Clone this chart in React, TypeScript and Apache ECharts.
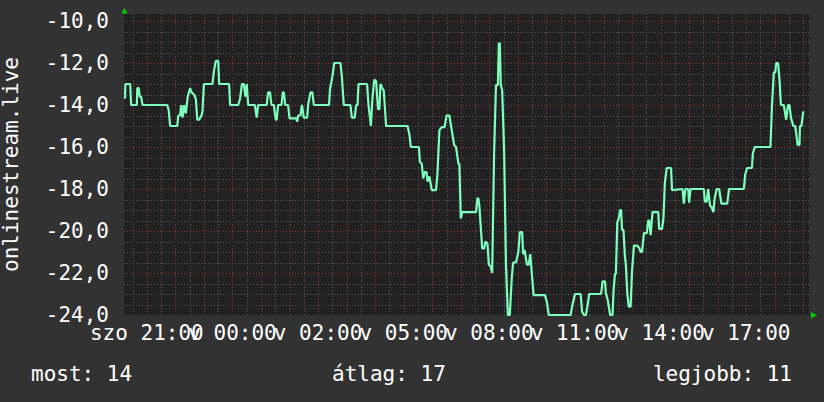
import React, { useEffect, useRef } from "react";
import * as echarts from "echarts";

const FONT = "'DejaVu Sans Mono', monospace";
const TEXT_COLOR = "#ffffff";

// x axis: minutes elapsed since "szo 21:00"; y axis: measured value
const X_MIN = -48;
const X_MAX = 1392;
const Y_MIN = -24;
const Y_MAX = -10 + 1 / 3;

const X_LABEL_MINUTES = [0, 180, 360, 540, 720, 900, 1080, 1260];
const X_LABELS = ["szo 21:00", "v 00:00", "v 02:00", "v 05:00", "v 08:00", "v 11:00", "v 14:00", "v 17:00"];
const Y_TICKS = [-24, -22, -20, -18, -16, -14, -12, -10];
const Y_TITLE = "onlinestream.live";

const LEGEND_LABELS = ["most", "átlag", "legjobb"];
const LEGEND_VALUES = [14, 17, 11];

const SAMPLE_MINUTES = [
  -46, -45, -35, -33, -21, -20, -17, -15, -12, -9,
  43, 46, 49, 64, 66, 70, 72, 75, 78, 82,
  86, 91, 94, 99, 103, 106, 110, 115, 117, 120,
  138, 141, 145, 150, 152, 173, 175, 192, 196, 200,
  204, 207, 210, 213, 227, 231, 234, 252, 255, 259,
  262, 267, 271, 273, 276, 283, 286, 288, 291, 297,
  300, 314, 316, 318, 323, 326, 330, 337, 339, 344,
  348, 351, 383, 385, 390, 394, 407, 410, 414, 428,
  431, 437, 440, 443, 445, 463, 466, 471, 474, 478,
  482, 486, 489, 491, 495, 498, 503, 544, 548, 552,
  555, 572, 574, 578, 581, 584, 588, 590, 594, 599,
  608, 611, 615, 620, 626, 630, 636, 641, 646, 650,
  655, 657, 660, 663, 692, 695, 697, 699, 705, 709,
  712, 716, 719, 723, 726, 730, 734, 738, 740, 742,
  744, 747, 751, 755, 759, 763, 767, 770, 776, 781,
  784, 789, 791, 794, 799, 803, 806, 810, 813, 837,
  841, 845, 891, 894, 900, 912, 915, 919, 923, 926,
  930, 955, 958, 963, 965, 969, 974, 979, 981, 984,
  986, 989, 992, 995, 997, 999, 1002, 1005, 1007, 1010,
  1013, 1017, 1020, 1024, 1031, 1035, 1038, 1041, 1045, 1051,
  1054, 1056, 1059, 1063, 1075, 1077, 1083, 1086, 1089, 1093,
  1102, 1104, 1126, 1129, 1132, 1138, 1140, 1143, 1171, 1173,
  1177, 1180, 1184, 1187, 1191, 1194, 1198, 1203, 1208, 1220,
  1224, 1255, 1258, 1262, 1272, 1274, 1278, 1311, 1314, 1318,
  1321, 1323, 1327, 1330, 1333, 1339, 1344, 1348, 1351, 1354,
  1359, 1363, 1366, 1368, 1372, 1373, 1376, 1380,
];

const SAMPLE_VALUES = [
  -13.7, -13.0, -13.0, -14.0, -14.0, -13.2, -13.2, -13.6, -13.6, -14.0,
  -14.0, -14.25, -15.0, -15.0, -14.5, -14.5, -14.0, -14.6, -14.0, -14.4,
  -13.6, -13.2, -13.4, -13.5, -13.7, -14.7, -14.7, -14.5, -14.3, -13.0,
  -13.0, -12.4, -11.9, -11.9, -13.0, -13.0, -14.0, -14.0, -13.7, -13.0,
  -13.0, -13.6, -13.0, -14.0, -14.0, -14.6, -14.0, -14.0, -13.4, -13.4,
  -14.0, -14.0, -14.7, -14.7, -14.0, -14.0, -13.4, -13.4, -14.0, -14.0,
  -14.64, -14.64, -14.8, -14.5, -14.5, -14.0, -14.6, -14.6, -14.0, -13.4,
  -13.4, -14.0, -14.0, -13.25, -12.65, -12.0, -12.0, -12.65, -14.0, -14.0,
  -14.6, -14.6, -14.0, -14.0, -13.0, -13.0, -14.0, -15.0, -13.76, -12.8,
  -12.85, -14.2, -14.2, -13.0, -13.2, -13.3, -15.0, -15.0, -15.0, -15.4,
  -16.0, -16.0, -16.7, -16.8, -17.5, -17.2, -17.2, -17.65, -17.4, -18.05,
  -18.05, -17.25, -15.2, -15.05, -15.05, -14.5, -14.5, -15.2, -15.9, -16.0,
  -16.8, -16.8, -19.4, -19.1, -19.1, -18.45, -18.45, -18.8, -20.83, -20.83,
  -20.5, -20.6, -21.6, -21.7, -22.0, -16.3, -13.05, -13.05, -11.06, -11.06,
  -13.05, -13.3, -16.1, -21.6, -24, -24, -22.3, -21.5, -21.5, -21.0,
  -20.05, -20.05, -21.1, -20.9, -21.6, -21.6, -21.1, -22.2, -23.05, -23.05,
  -23.4, -24, -24, -23.6, -23.0, -23.0, -23.85, -24, -24, -23.6,
  -23.0, -23.0, -22.4, -22.4, -22.95, -23.3, -24, -24, -22.9, -22.05,
  -22.05, -19.6, -19.4, -19.0, -19.0, -19.95, -19.95, -21.2, -21.6, -22.95,
  -23.6, -23.6, -21.9, -20.7, -20.7, -20.8, -21.0, -21.0, -20.1, -20.1,
  -19.5, -19.5, -20.2, -19.1, -19.1, -19.9, -19.9, -19.4, -17.7, -17.0,
  -17.0, -18.05, -18.0, -18.7, -18.0, -18.0, -18.65, -18.0, -18.0, -18.6,
  -18.6, -18.0, -18.8, -18.85, -19.1, -18.4, -18.0, -18.0, -18.7, -18.7,
  -18.0, -18.0, -17.3, -17.0, -17.0, -16.3, -16.0, -16.0, -14.1, -12.45,
  -12.45, -12.0, -12.0, -12.8, -14.0, -14.0, -14.7, -14.0, -14.0, -14.6,
  -15.0, -15.0, -15.5, -15.9, -15.9, -15.0, -15.0, -14.3,
];

const MINOR_COLOR = "#5a5a5a";
const MAJOR_COLOR = "#8a3939";

// grid line items: [orientation (0 = vertical, 1 = horizontal), axis value, isMajor]
function buildGridItems() {
  const items: number[][] = [];
  for (let m = -30; m <= X_MAX; m += 60) if (m > X_MIN) items.push([0, m, 0]);
  for (let v = Y_MIN + 0.5; v < Y_MAX; v += 0.5) {
    const isMajor = Math.abs(v / 2 - Math.round(v / 2)) < 1e-6;
    if (!isMajor) items.push([1, v, 0]);
  }
  for (let m = 0; m <= X_MAX; m += 60) items.push([0, m, 1]);
  for (let v = Y_MIN + 2; v < Y_MAX; v += 2) items.push([1, v, 1]);
  return items;
}

function xAxisFor(parity: number) {
  const values = X_LABEL_MINUTES.filter((_, i) => i % 2 === parity);
  return {
    type: "value",
    position: "bottom",
    offset: 0,
    min: X_MIN,
    max: X_MAX,
    axisLine: { show: false },
    axisTick: { show: false },
    splitLine: { show: false },
    axisLabel: {
      customValues: values,
      formatter: (v: number) => {
        const idx = X_LABEL_MINUTES.indexOf(Math.round(v));
        return idx >= 0 ? X_LABELS[idx] : "";
      },
      showMinLabel: true,
      showMaxLabel: true,
      hideOverlap: false,
      color: TEXT_COLOR,
      fontFamily: FONT,
      fontSize: 21,
      margin: 7,
    },
  };
}

export default function App() {
  const ref = useRef<HTMLDivElement>(null);

  useEffect(() => {
    if (!ref.current) return;
    const chart = echarts.init(ref.current, null, { renderer: "svg" });
    const data = SAMPLE_MINUTES.map((t, i) => [t, SAMPLE_VALUES[i]]);
    const legendText = LEGEND_LABELS.map((l, i) => `${l}: ${LEGEND_VALUES[i]}`);

    chart.setOption({
      animation: false,
      backgroundColor: "#323232",
      textStyle: { fontFamily: FONT },
      grid: {
        left: 124,
        top: 14,
        width: 685,
        height: 301,
        show: true,
        backgroundColor: "#212121",
        borderWidth: 0,
        containLabel: false,
        outerBoundsMode: "none",
      },
      xAxis: [xAxisFor(0), xAxisFor(1)],
      yAxis: {
        type: "value",
        min: Y_MIN,
        max: Y_MAX,
        axisLine: { show: false },
        axisTick: { show: false },
        splitLine: { show: false },
        axisLabel: {
          customValues: Y_TICKS,
          formatter: (v: number) => v.toFixed(1).replace(".", ","),
          showMinLabel: true,
          showMaxLabel: true,
          color: TEXT_COLOR,
          fontFamily: FONT,
          fontSize: 21,
          margin: 15,
        },
        name: Y_TITLE,
        nameLocation: "middle",
        nameRotate: 90,
        nameGap: 104,
        nameTextStyle: { color: TEXT_COLOR, fontFamily: FONT, fontSize: 21, lineHeight: 18 },
      },
      series: [
        {
          type: "custom",
          z: 1,
          silent: true,
          xAxisIndex: 0,
          data: buildGridItems(),
          renderItem: (params: any, api: any) => {
            const cs = params.coordSys;
            const kind = api.value(0);
            const val = api.value(1);
            const major = api.value(2) === 1;
            const style = {
              stroke: major ? MAJOR_COLOR : MINOR_COLOR,
              lineWidth: 1,
              lineDash: [1, 2],
            };
            if (kind === 0) {
              const px = Math.round(api.coord([val, Y_MIN])[0]) + 0.5;
              return {
                type: "line",
                shape: { x1: px, y1: cs.y, x2: px, y2: cs.y + cs.height },
                style,
              };
            }
            const py = Math.round(api.coord([X_MIN, val])[1]) + 0.5;
            return {
              type: "line",
              shape: { x1: cs.x, y1: py, x2: cs.x + cs.width, y2: py },
              style,
            };
          },
        },
        {
          type: "line",
          xAxisIndex: 0,
          data,
          showSymbol: false,
          symbol: "none",
          z: 3,
          lineStyle: { color: "#7dffbe", width: 2.2 },
        },
      ],
      graphic: [
        {
          type: "polygon",
          shape: { points: [[121.5, 13.5], [124.5, 8], [127.5, 13.5]] },
          style: { fill: "#00d000" },
        },
        {
          type: "polygon",
          shape: { points: [[811, 312], [811, 318.5], [817, 315.2]] },
          style: { fill: "#00d000" },
        },
        {
          type: "text",
          x: 31,
          y: 374,
          style: { text: legendText[0], fill: TEXT_COLOR, font: `21px ${FONT}`, align: "left", verticalAlign: "middle" },
        },
        {
          type: "text",
          x: 332,
          y: 374,
          style: { text: legendText[1], fill: TEXT_COLOR, font: `21px ${FONT}`, align: "left", verticalAlign: "middle" },
        },
        {
          type: "text",
          x: 792,
          y: 374,
          style: { text: legendText[2], fill: TEXT_COLOR, font: `21px ${FONT}`, align: "right", verticalAlign: "middle" },
        },
      ],
    });

    return () => chart.dispose();
  }, []);

  return (
    <div
      ref={ref}
      style={{ position: "fixed", left: 0, top: 0, width: 824, height: 402 }}
    />
  );
}
